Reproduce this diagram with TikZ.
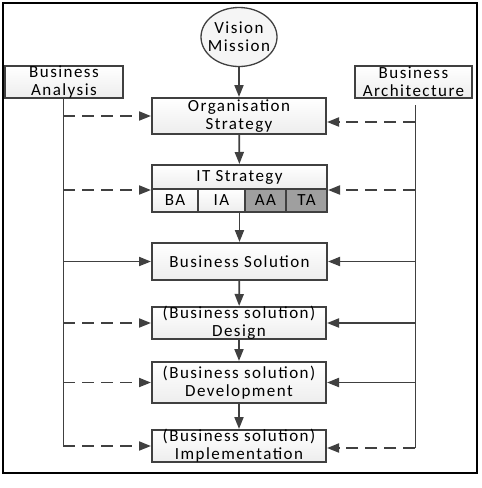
\documentclass[tikz,border=0pt]{standalone}
\usepackage{fontspec}
\setmainfont[LetterSpace=8.5]{Carlito}
\usepackage{tikz}
\usetikzlibrary{arrows.meta,shapes.geometric}
\definecolor{edge}{HTML}{404040}

\begin{document}
\begin{tikzpicture}[x=1pt,y=-1pt,
			frame/.style={draw=black,line width=2.4pt},
			box/.style={draw=edge,line width=2pt,top color=white,bottom color=gray!14,
				inner xsep=0pt,inner ysep=-4pt,align=center,font=\fontsize{17}{18}\selectfont},
			low/.style={box,execute at begin node={\rule{0pt}{16pt}}},
			cell/.style={box,minimum height=23pt},
			dark/.style={draw=edge,line width=2pt,fill=gray!75,inner sep=0pt,
				minimum height=23pt,font=\fontsize{17}{18}\selectfont},
			rail/.style={draw=edge,line width=0.9pt},
			arr/.style={-{Triangle[length=12pt,width=9pt]},draw=edge,line width=1.8pt},
			dasharr/.style={arr,dash pattern=on 12pt off 7pt}]
			\useasboundingbox (0,0) rectangle (482,488);
			\draw[frame] (3,3) rectangle (477,473);
			%% main column
			\node[ellipse,draw=edge,line width=1.3pt,fill=gray!8,minimum width=76pt,minimum height=59pt,
				inner xsep=-13pt,inner ysep=0pt,align=center,font=\fontsize{17}{18}\selectfont] (vm) at (239,37) {Vision\\Mission};
			\node[low,minimum width=174pt,minimum height=36pt] (org) at (239,116) {Organisation\\Strategy};
			\node[box,minimum width=175pt,minimum height=24pt] (itt) at (239.5,177) {IT Strategy};
			\node[cell,minimum width=46pt] (cba) at (175,200.5) {BA};
			\node[cell,minimum width=47pt] (cia) at (221.5,200.5) {IA};
			\node[dark,minimum width=41pt] (caa) at (265.5,200.5) {AA};
			\node[dark,minimum width=41pt] (cta) at (306.5,200.5) {TA};
			\node[box,minimum width=175pt,minimum height=37pt] (bs) at (239.5,261.5) {Business Solution};
			\node[low,minimum width=174pt,minimum height=32pt] (des) at (239,323) {(Business solution)\\Design};
			\node[box,minimum width=174pt,minimum height=41pt] (dev) at (239,382.5) {(Business solution)\\Development};
			\node[low,minimum width=174pt,minimum height=32pt] (imp) at (239,446) {(Business solution)\\Implementation};
			%% side boxes
			\node[low,minimum width=118pt,minimum height=32pt] (ba) at (64,82) {Business\\Analysis};
			\node[low,minimum width=117pt,minimum height=32pt] (arch) at (413.5,82) {Business\\Architecture};
			\coordinate (lt) at (63,98);
			\coordinate (lb) at (63,446);
			\coordinate (rt) at (415,105);
			\coordinate (rb) at (415,448);
			\draw[rail] (lt) -- (lb);
			\draw[rail] (rt) -- (rb);
			%% flow down
			\draw[arr] (vm) -- (org);
			\draw[arr] (org) -- (itt);
			\draw[arr] (itt.center |- cia.south) -- (bs);
			\draw[arr] (bs) -- (des);
			\draw[arr] (des) -- (dev);
			\draw[arr] (dev) -- (imp);
			%% from business analysis
			\draw[dasharr] (lt |- org.west) -- (org.west);
			\draw[dasharr] (lt |- itt.south west) -- (itt.south west);
			\draw[arr] (lt |- bs.west) -- (bs.west);
			\draw[dasharr] (lt |- des.west) -- (des.west);
			\draw[dasharr] (lt |- dev.west) -- (dev.west);
			\draw[dasharr] (lb) -- (lb -| imp.west);
			%% from business architecture
			\draw[dasharr] ([yshift=-6pt]rt |- org.east) -- ([yshift=-6pt]org.east);
			\draw[dasharr] (rt |- itt.south east) -- (itt.south east);
			\draw[arr] (rt |- bs.east) -- (bs.east);
			\draw[arr] (rt |- des.east) -- (des.east);
			\draw[arr] (rt |- dev.east) -- (dev.east);
			\draw[dasharr] (rb) -- (rb -| imp.east);
		\end{tikzpicture}
\end{document}
